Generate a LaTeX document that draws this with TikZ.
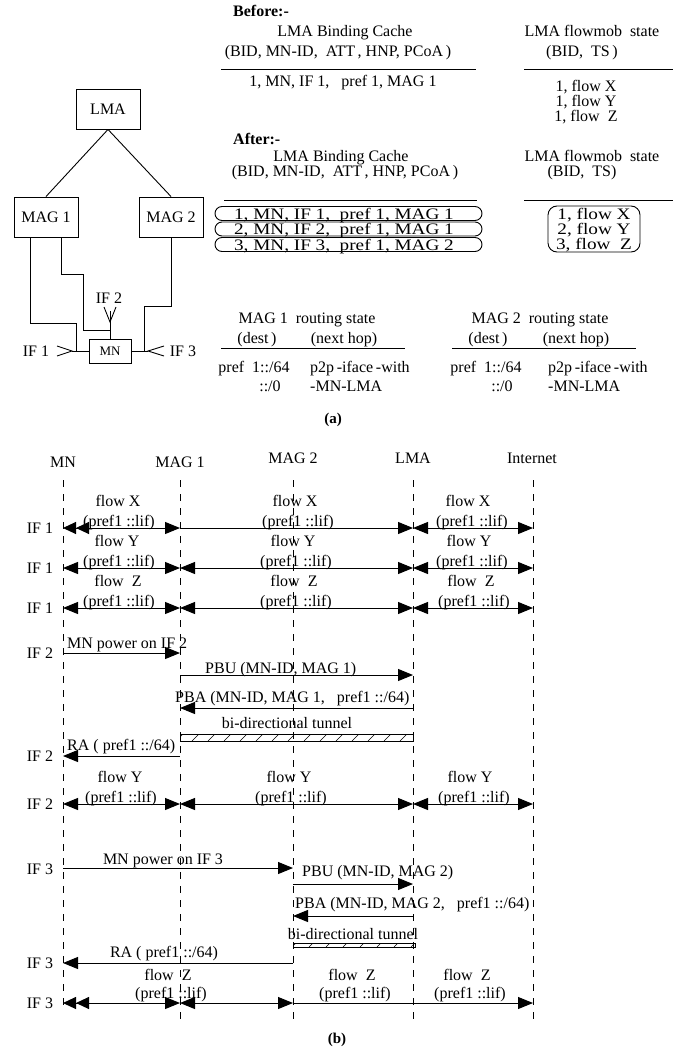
\documentclass[tikz,border=0pt]{standalone}
\usepackage{fontspec}
\setmainfont{Liberation Serif}
\newfontfamily\widefont[FakeStretch=1.2]{Liberation Serif}
\usetikzlibrary{arrows.meta}
\begin{document}
\begin{tikzpicture}[x=1pt,y=-1pt,
  every node/.style={inner sep=0pt, font=\fontsize{16}{19}\selectfont},
  box/.style={draw, line width=0.9pt, minimum width=64pt, minimum height=40pt},
  ln/.style={line width=0.9pt},
  lab/.style={anchor=base},
  labw/.style={anchor=base west},
  hd/.style={anchor=base west, font=\fontsize{16}{19}\selectfont\bfseries},
  wide/.style={anchor=base, font=\widefont\fontsize{16}{19}\selectfont},
  rul/.style={line width=1pt},
  life/.style={line width=0.9pt, dash pattern=on 7pt off 7pt},
  fw/.style={line width=1pt, arrows={-Triangle[length=15pt,width=12pt]}},
  bi/.style={line width=1pt, arrows={Triangle[length=15pt,width=12pt]-Triangle[length=15pt,width=12pt]}},
  bb/.style={line width=1pt, arrows={Triangle[length=13pt,width=12pt] Triangle[length=13pt,width=12pt]-Triangle[length=15pt,width=12pt]}},
  hatch/.style={line width=0.6pt}
]
\useasboundingbox (0,0) rectangle (673,1051);

% ---------------- (a) topology ----------------
\node[box] (lma) at (108,109) {LMA};
\node[box] (mag1) at (46,217) {MAG 1};
\node[box] (mag2) at (171,217) {MAG 2};
\node[draw, line width=0.9pt, minimum width=42pt, minimum height=24pt, font=\fontsize{13}{15}\selectfont] (mn) at (110,351) {MN};
\coordinate (if1) at (72,351);
\coordinate (if3) at (148,351);
\coordinate (if2) at (110,322);
\coordinate (if2top) at (110,311);
\draw[ln] (lma.south) -- (mag1.north);
\draw[ln] (lma.south) -- (mag2.north);
\draw[ln] ([xshift=-16pt]mag1.south) |- (76,323) -- (76,351);
\draw[ln] (if1) -- (mn.west);
\draw[ln] ([xshift=15pt]mag1.south) |- (83,274) -- (83,330) -| (mn.north);
\draw[ln] (mag2.south) |- (144,306) -- (144,351);
\draw[ln] (mn.east) -- (if3);
\draw[ln] (mn.north) -- (if2top);
\draw[ln] (104,307) -- (if2) -- (116,307);
\draw[ln] (57,346) -- (if1) -- (57,356);
\draw[ln] (164,346) -- (if3) -- (164,356);
\node[lab] at (36,356.5) {IF 1};
\node[lab] at (183,356.5) {IF 3};
\node[lab] at (109,303) {IF 2};

% ---------------- (a) tables ----------------
\node[hd] at (233,17) {Before:-};
\node[lab] at (345,37) {LMA Binding Cache};
\node[lab] at (338,57) {(BID, MN-ID,\ \ ATT\,, HNP, PCoA\,)};
\draw[rul] (221,69.5) -- (476,69.5);
\node[lab] at (343,87) {1, MN, IF 1,\ \ \ pref 1, MAG 1};
\node[lab] at (592,37) {LMA flowmob\ \ state};
\node[lab] at (582,57) {(BID,\ \ TS\,)};
\draw[rul] (524,69.5) -- (673,69.5);
\node[lab] at (586,92) {1, flow X};
\node[lab] at (586,107) {1, flow Y};
\node[lab] at (586,122) {1, flow\ \ Z};

\node[hd] at (233,145) {After:-};
\node[lab] at (341,161) {LMA Binding Cache};
\node[lab] at (345,177) {(BID, MN-ID,\ \ ATT\,, HNP, PCoA\,)};
\draw[rul] (224,200) -- (477,200);
\node[draw, line width=0.9pt, rounded corners=7pt, minimum width=267pt, minimum height=14pt] (c1) at (348.5,213.5) {};
\node[draw, line width=0.9pt, rounded corners=7pt, minimum width=267pt, minimum height=14pt] (c2) at (348.5,229) {};
\node[draw, line width=0.9pt, rounded corners=7pt, minimum width=267pt, minimum height=14pt] (c3) at (348.5,244.5) {};
\node[wide] at (344,219) {1, MN, IF 1,\ \ pref 1, MAG 1};
\node[wide] at (344,234.5) {2, MN, IF 2,\ \ pref 1, MAG 1};
\node[wide] at (344,250) {3, MN, IF 3,\ \ pref 1, MAG 2};
\node[lab] at (592,161) {LMA flowmob\ \ state};
\node[lab] at (582,177) {(BID,\ \ TS)};
\draw[rul] (524,200) -- (673,200);
\node[draw, line width=0.9pt, rounded corners=9pt, minimum width=92pt, minimum height=46pt] (fm) at (594,229) {};
\node[wide] at (594,219) {1, flow X};
\node[wide] at (594,234) {2, flow Y};
\node[wide] at (594,249) {3, flow\ \ Z};

\node[lab] at (307,323) {MAG 1\ \ routing state};
\node[lab] at (257,343) {(dest\,)};
\node[lab] at (344,343) {(next hop)};
\draw[rul] (221,348.5) -- (405,348.5);
\node[lab] at (254,372) {pref\ \ 1::/64};
\node[labw] at (310,372) {p2p\,-iface\,-with};
\node[lab] at (270,391) {::/0};
\node[labw] at (310,391) {-MN-LMA};

\node[lab] at (540,323) {MAG 2\ \ routing state};
\node[lab] at (488,343) {(dest\,)};
\node[lab] at (576,343) {(next hop)};
\draw[rul] (452,348.5) -- (636,348.5);
\node[lab] at (486,372) {pref\ \ 1::/64};
\node[labw] at (548,372) {p2p\,-iface\,-with};
\node[lab] at (502,391) {::/0};
\node[labw] at (548,391) {-MN-LMA};

\node[lab, font=\fontsize{15}{18}\selectfont\bfseries] at (333,423) {(a)};

% ---------------- (b) sequence ----------------
\node[lab] (hMN) at (63,467) {MN};
\node[lab] (hG1) at (180,467) {MAG 1};
\node[lab] (hG2) at (293,463) {MAG 2};
\node[lab] (hL) at (413,463) {LMA};
\node[lab] (hI) at (532,463) {Internet};

\coordinate (xMN) at (63,480);
\coordinate (xG1) at (180,480);
\coordinate (xG2) at (293,480);
\coordinate (xL) at (413,480);
\coordinate (xI) at (533,480);
\coordinate (eMN) at (63,1012);
\coordinate (eG1) at (180,1020);
\coordinate (eG2) at (293,1020);
\coordinate (eL) at (413,1020);
\coordinate (eI) at (533,1020);
\foreach \a/\b in {xMN/eMN,xG1/eG1,xG2/eG2,xL/eL,xI/eI}
  \draw[life] (\a) -- (\b);

\coordinate (r1) at (0,528);
\coordinate (r2) at (0,568);
\coordinate (r3) at (0,608);
\coordinate (r4) at (0,653);
\coordinate (r5) at (0,675);
\coordinate (r6) at (0,708);
\coordinate (r7) at (0,756);
\coordinate (r8) at (0,804);
\coordinate (r9) at (0,868);
\coordinate (r10) at (0,884);
\coordinate (r11) at (0,916);
\coordinate (r12) at (0,963);
\coordinate (r13) at (0,1003);

% IF labels
\foreach \y/\t in {533.5/IF 1,573.5/IF 1,613.5/IF 1,658.5/IF 2,761.5/IF 2,809.5/IF 2,874/IF 3,968.5/IF 3,1008.5/IF 3}
  \node[lab] at (40,\y) {\t};

% rows 1-3 : flows X, Y, Z over IF 1
\draw[bb] (xMN|-r1) -- (xG1|-r1);
\draw[fw] (xG1|-r1) -- (xL|-r1);
\draw[bi] (xL|-r1) -- (xI|-r1);
\node[lab] at (118,506) {flow X};
\node[lab] at (119,526) {(pref1 ::lif)};
\node[lab] at (295,506) {flow X};
\node[lab] at (298,526) {(pref1 ::lif)};
\node[lab] at (468,506) {flow X};
\node[lab] at (472,526) {(pref1 ::lif)};

\draw[bi] (xMN|-r2) -- (xG1|-r2);
\draw[bi] (xG1|-r2) -- (xL|-r2);
\draw[bi] (xL|-r2) -- (xI|-r2);
\node[lab] at (117,546) {flow Y};
\node[lab] at (119,566) {(pref1 ::lif)};
\node[lab] at (293,546) {flow Y};
\node[lab] at (296,566) {(pref1 ::lif)};
\node[lab] at (469,546) {flow Y};
\node[lab] at (472,566) {(pref1 ::lif)};

\draw[bi] (xMN|-r3) -- (xG1|-r3);
\draw[bi] (xG1|-r3) -- (xL|-r3);
\draw[bi] (xL|-r3) -- (xI|-r3);
\node[lab] at (118,586) {flow\ \ Z};
\node[lab] at (119,606) {(pref1 ::lif)};
\node[lab] at (294,586) {flow\ \ Z};
\node[lab] at (296,606) {(pref1 ::lif)};
\node[lab] at (471,586) {flow\ \ Z};
\node[lab] at (474,606) {(pref1 ::lif)};

% IF 2 attach
\draw[fw] (xMN|-r4) -- (xG1|-r4);
\node[labw] at (67,648) {MN power on IF 2};
\draw[fw] (xG1|-r5) -- (xL|-r5);
\node[labw] at (205,673) {PBU (MN-ID, MAG 1)};
\draw[fw] (xL|-r6) -- (xG1|-r6);
\node[labw] at (175,702) {PBA (MN-ID, MAG 1,\ \ \ pref1 ::/64)};
\node[lab] at (287,728) {bi-directional tunnel};
\node[draw, line width=0.9pt, minimum width=233pt, minimum height=7pt, anchor=north west] (tun1) at (180,734) {};
\begin{scope}
  \clip (tun1.south west) rectangle (tun1.north east);
  \foreach \x in {176,192,...,420} \draw[hatch] (\x,741) -- ++(8,-8);
\end{scope}
\draw[fw] (xG1|-r7) -- (xMN|-r7);
\node[labw] at (67,750) {RA ( pref1 ::/64)};

\draw[bi] (xMN|-r8) -- (xG1|-r8);
\draw[bi] (xG1|-r8) -- (xL|-r8);
\draw[bi] (xL|-r8) -- (xI|-r8);
\node[lab] at (120,782) {flow Y};
\node[lab] at (121,802) {(pref1 ::lif)};
\node[lab] at (289,782) {flow Y};
\node[lab] at (291,802) {(pref1 ::lif)};
\node[lab] at (470,782) {flow Y};
\node[lab] at (474,802) {(pref1 ::lif)};

% IF 3 attach
\draw[fw] (xMN|-r9) -- (xG2|-r9);
\node[lab] at (163,864) {MN power on IF 3};
\draw[fw] (xG2|-r10) -- (xL|-r10);
\node[labw] at (302,876) {PBU (MN-ID, MAG 2)};
\draw[fw] (xL|-r11) -- (xG2|-r11);
\node[labw] at (295,908) {PBA (MN-ID, MAG 2,\ \ \ pref1 ::/64)};
\node[lab] at (353,939) {bi-directional tunnel};
\node[draw, line width=0.9pt, minimum width=122pt, minimum height=4pt, anchor=north west] (tun2) at (293,943) {};
\begin{scope}
  \clip (tun2.south west) rectangle (tun2.north east);
  \foreach \x in {292,309,...,420} \draw[hatch] (\x,947) -- ++(5,-5);
\end{scope}
\draw[fw] (xG2|-r12) -- (xMN|-r12);
\node[lab] at (164,957) {RA ( pref1 ::/64)};

\draw[bb] (xMN|-r13) -- (xG1|-r13);
\draw[bi] (xG1|-r13) -- (xG2|-r13);
\draw[fw] (xG2|-r13) -- (xI|-r13);
\node[lab] at (168,980) {flow\ \ Z};
\node[lab] at (171,998) {(pref1 ::lif)};
\node[lab] at (352,980) {flow\ \ Z};
\node[lab] at (355,998) {(pref1 ::lif)};
\node[lab] at (467,980) {flow\ \ Z};
\node[lab] at (470,998) {(pref1 ::lif)};

\node[lab, font=\fontsize{15}{18}\selectfont\bfseries] at (337,1043) {(b)};
\end{tikzpicture}
\end{document}
